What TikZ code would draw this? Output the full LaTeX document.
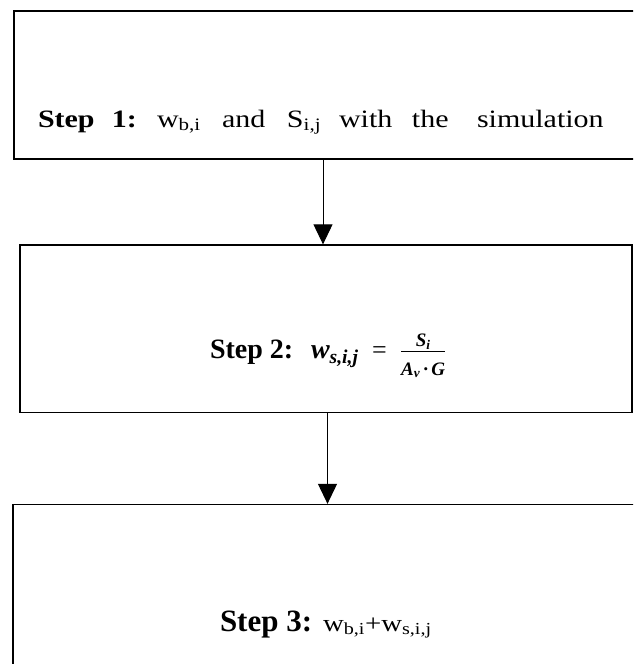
\documentclass[tikz,border=0pt]{standalone}
\usepackage{fontspec}
\setmainfont{Liberation Serif}
\newfontfamily\widefont{Liberation Serif}[FakeStretch=1.2]
\usetikzlibrary{arrows.meta}

\tikzset{
  stepbox/.style={draw=black, line width=1.3pt, fill=none, inner sep=0pt},
  flow/.style={draw=black, line width=1pt, -{Triangle[width=19pt,length=20pt]}},
  steptext/.style={inner sep=0pt, outer sep=0pt, anchor=base west}
}
% a word set in a slot of fixed width (justified line)
\newcommand{\wslot}[2]{\makebox[#1][l]{#2}}
% parts of the fraction, in text type
\newcommand{\fracnum}{\mbox{\fontsize{19}{23}\selectfont\bfseries\itshape
  \rule[-4pt]{0pt}{4pt}S\textsubscript{i}}}
\newcommand{\fracden}{\mbox{\fontsize{19}{23}\selectfont\bfseries\itshape
  \rule{0pt}{24pt}A\textsubscript{v}\,·\,G}}
% weight formula of step 2, set piece by piece
\newcommand{\wsformula}{%
  \wslot{61pt}{\fontsize{28}{34}\selectfont\bfseries\itshape w\textsubscript{s,i,j}}%
  \wslot{28pt}{\fontsize{26}{31}\selectfont =}%
  \raisebox{1pt}{$\frac{\fracnum}{\fracden}$}}

\begin{document}
\begin{tikzpicture}[x=1pt, y=-1pt]
  \useasboundingbox (0,0) rectangle (633,664);
  \clip (0,0) rectangle (633,664);
  \fill[white] (0,0) rectangle (633,664);

  % boxes of the three steps
  \node[stepbox, minimum width=646pt, minimum height=148pt] (b1) at (337,85) {};
  \node[stepbox, minimum width=612pt, minimum height=167.5pt] (b2) at (326,328.75) {};
  \node[stepbox, minimum width=647pt, minimum height=195.5pt] (b3) at (336.5,602.25) {};

  % step labels
  \node[steptext] (t1) at (38,127) {\widefont\fontsize{25}{30}\selectfont
    \wslot{74pt}{\textbf{Step}}\wslot{45pt}{\textbf{1:}}%
    \wslot{65pt}{w\textsubscript{b,i}}\wslot{65pt}{and}%
    \wslot{52pt}{S\textsubscript{i,j}}\wslot{73pt}{with}%
    \wslot{65pt}{the}simulation};
  \node[steptext] (t2) at (210,358) {\fontsize{28}{34}\selectfont
    \wslot{101pt}{\textbf{Step 2:}}\wsformula};
  \node[steptext] (t3) at (220,631) {\fontsize{31}{37}\selectfont
    \wslot{103pt}{\textbf{Step 3:}}{\widefont\fontsize{24}{29}\selectfont w\textsubscript{b,i}+w\textsubscript{s,i,j}}};

  % connectors
  \coordinate (x1) at (323,0);
  \coordinate (x2) at (327.5,0);
  \draw[flow] (b1.south -| x1) -- (b2.north -| x1);
  \draw[flow] (b2.south -| x2) -- (b3.north -| x2);
\end{tikzpicture}
\end{document}
